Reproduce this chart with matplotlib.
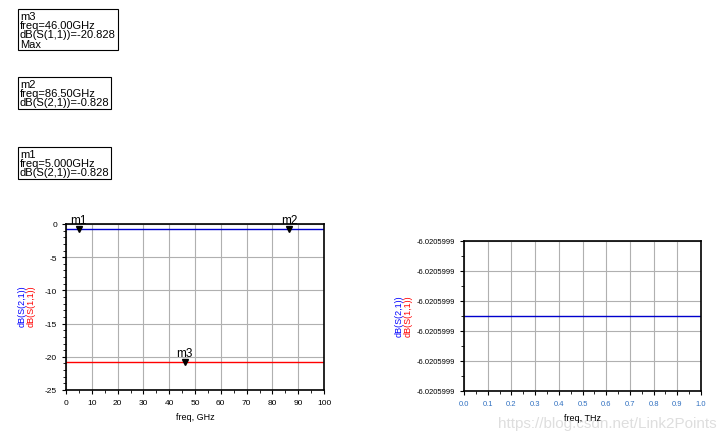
import matplotlib
matplotlib.use("Agg")
import matplotlib.pyplot as plt
import numpy as np
from matplotlib.ticker import MultipleLocator, FormatStrFormatter

plt.rcParams['font.family'] = ['Liberation Sans', 'DejaVu Sans']
plt.rcParams['axes.unicode_minus'] = False

freq_ghz = [0, 100]
s21_db = [-0.828, -0.828]
s11_db = [-20.828, -20.828]
markers = [("m1", 5.0, -0.828), ("m2", 86.5, -0.828), ("m3", 46.0, -20.828)]
freq_thz = [0.0, 1.0]
s21_right = [2.5, 2.5]
right_labels = ["-6.0205999"] * 6

W, H = 728, 439
fig = plt.figure(figsize=(W/100, H/100), dpi=100)

def ax_at(x0, y0, x1, y1):
    return fig.add_axes([x0/W, 1-y1/H, (x1-x0)/W, (y1-y0)/H])

# Left chart
ax = ax_at(66, 225, 324, 391)
ax.plot(freq_ghz, s21_db, color='#0000cc', lw=1)
ax.plot(freq_ghz, s11_db, color='red', lw=1)
ax.set_xlim(0, 100); ax.set_ylim(-25, 0)
ax.xaxis.set_major_locator(MultipleLocator(10)); ax.xaxis.set_minor_locator(MultipleLocator(5))
ax.yaxis.set_major_locator(MultipleLocator(5)); ax.yaxis.set_minor_locator(MultipleLocator(1))
ax.grid(True, color='#b0b0b0', lw=0.8)
ax.tick_params(labelsize=6, length=3, direction='out')
ax.tick_params(which='minor', length=2)
for name, f, v in markers:
    ax.plot([f], [v], marker='v', color='black', ms=4, clip_on=False)
    ax.text(f, v+0.5, name, ha='center', va='bottom', fontsize=8.5)
ax.set_xlabel("freq, GHz", fontsize=6.5)
ax.text(22/W, 1-306/H, "dB(S(2,1))", color='blue', rotation=90, fontsize=6.5, transform=fig.transFigure, ha='center', va='center')
ax.text(31/W, 1-306/H, "dB(S(1,1))", color='red', rotation=90, fontsize=6.5, transform=fig.transFigure, ha='center', va='center')
for s in ax.spines.values(): s.set_linewidth(1.2)

# Right chart
ax2 = ax_at(464, 242, 701, 392)
ax2.plot(freq_thz, s21_right, color='#0000cc', lw=1)
ax2.set_xlim(0, 1); ax2.set_ylim(0, 5)
ax2.xaxis.set_major_locator(MultipleLocator(0.1)); ax2.xaxis.set_minor_locator(MultipleLocator(0.05))
ax2.set_yticks(range(6)); ax2.set_yticklabels(right_labels[::-1])
ax2.yaxis.set_minor_locator(MultipleLocator(0.5))
ax2.xaxis.set_major_formatter(FormatStrFormatter('%.1f'))
ax2.grid(True, color='#b0b0b0', lw=0.8)
ax2.tick_params(labelsize=5.5, length=3)
ax2.tick_params(which='minor', length=2)
for lbl in ax2.get_xticklabels(): lbl.set_color('#3070c0')
ax2.set_xlabel("freq, THz", fontsize=6.5)
ax2.text(399/W, 1-316/H, "dB(S(2,1))", color='blue', rotation=90, fontsize=6.5, transform=fig.transFigure, ha='center', va='center')
ax2.text(408/W, 1-316/H, "dB(S(1,1))", color='red', rotation=90, fontsize=6.5, transform=fig.transFigure, ha='center', va='center')
for s in ax2.spines.values(): s.set_linewidth(1.2)

# Marker boxes
boxes = [
    ("m3\nfreq=46.00GHz\ndB(S(1,1))=-20.828\nMax", 10),
    ("m2\nfreq=86.50GHz\ndB(S(2,1))=-0.828", 78),
    ("m1\nfreq=5.000GHz\ndB(S(2,1))=-0.828", 148),
]
for txt, ytop in boxes:
    fig.text(20/W, 1-(ytop+2)/H, txt, fontsize=8, va='top', ha='left', linespacing=0.9,
             bbox=dict(boxstyle='square,pad=0.15', fc='white', ec='black', lw=0.8))

fig.text(0.985, 0.025, "https://blog.csdn.net/Link2Points", fontsize=11, color='#d0d0d0', ha='right', alpha=0.7, zorder=-1)
fig.savefig("out.png", dpi=100)
